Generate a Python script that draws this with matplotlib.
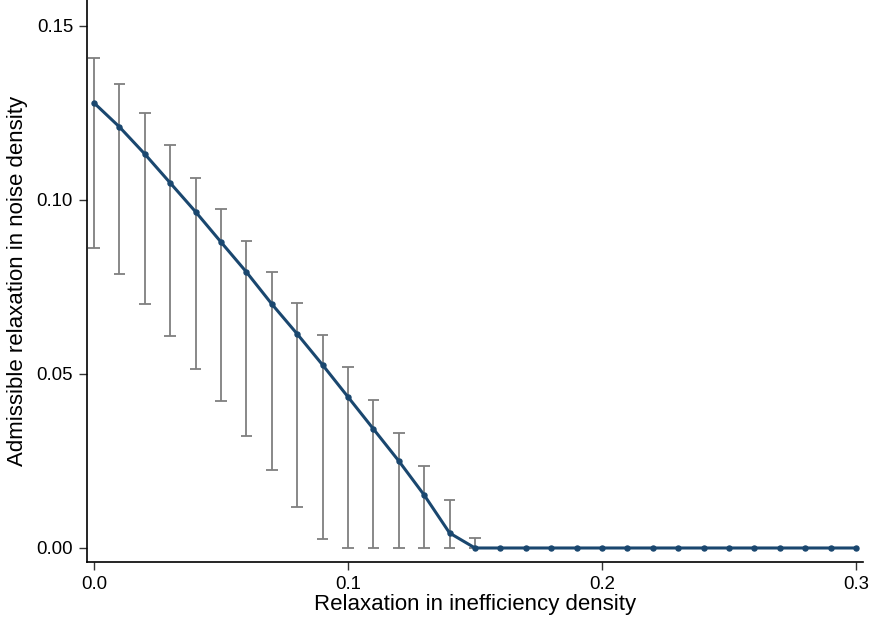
import matplotlib

matplotlib.use("Agg")

import matplotlib.pyplot as plt
import numpy as np
from matplotlib.ticker import FormatStrFormatter

plt.rcParams["font.family"] = ["Liberation Sans", "DejaVu Sans"]

relax_ineff = [round(0.01 * i, 2) for i in range(31)]
admissible = [0.1279, 0.1210, 0.1132, 0.1049, 0.0966, 0.0879, 0.0793, 0.0701,
              0.0615, 0.0526, 0.0434, 0.0342, 0.0250, 0.0152, 0.0043] + [0.0] * 16
ci_upper = [0.1408, 0.1333, 0.1250, 0.1158, 0.1063, 0.0974, 0.0882, 0.0793,
            0.0704, 0.0612, 0.0520, 0.0425, 0.0330, 0.0236, 0.0138, 0.0029]
ci_lower = [0.0862, 0.0787, 0.0701, 0.0609, 0.0514, 0.0422, 0.0322, 0.0224,
            0.0118, 0.0026, 0.0, 0.0, 0.0, 0.0, 0.0, 0.0]

LINE_COLOR = "#1a476f"
BAR_COLOR = "#7f7f7f"

fig = plt.figure(figsize=(8.71, 6.22), dpi=100)
ax = fig.add_axes([0.0999, 0.0965, 0.8909, 0.9035])

n_ci = len(ci_upper)
ax.vlines(relax_ineff[:n_ci], ci_lower, ci_upper, color=BAR_COLOR, linewidth=1.3, zorder=1)
cap = 0.0023
for x, lo, hi in zip(relax_ineff[:n_ci], ci_lower, ci_upper):
    ax.hlines([lo, hi], x - cap, x + cap, color=BAR_COLOR, linewidth=1.3, zorder=1)

ax.plot(relax_ineff, admissible, color=LINE_COLOR, linewidth=2.2, marker="o",
        markersize=3.6, zorder=3)

ax.set_xlim(-0.00276, 0.30276)
ax.set_ylim(-0.00402, 0.15747)
ax.set_xticks([0.0, 0.1, 0.2, 0.3])
ax.set_yticks([0.0, 0.05, 0.10, 0.15])
ax.xaxis.set_major_formatter(FormatStrFormatter("%.1f"))
ax.yaxis.set_major_formatter(FormatStrFormatter("%.2f"))
ax.tick_params(direction="out", length=6, width=1, labelsize=13.4, colors="#333333",
               labelcolor="black", pad=4)

for side in ["top", "right"]:
    ax.spines[side].set_visible(False)
for side in ["left", "bottom"]:
    ax.spines[side].set_linewidth(1.2)
    ax.spines[side].set_color("black")

ax.set_xlabel("Relaxation in inefficiency density", fontsize=16, labelpad=1)
ax.set_ylabel("Admissible relaxation in noise density", fontsize=16, labelpad=6)

fig.savefig("out.png", dpi=100)
plt.close(fig)
